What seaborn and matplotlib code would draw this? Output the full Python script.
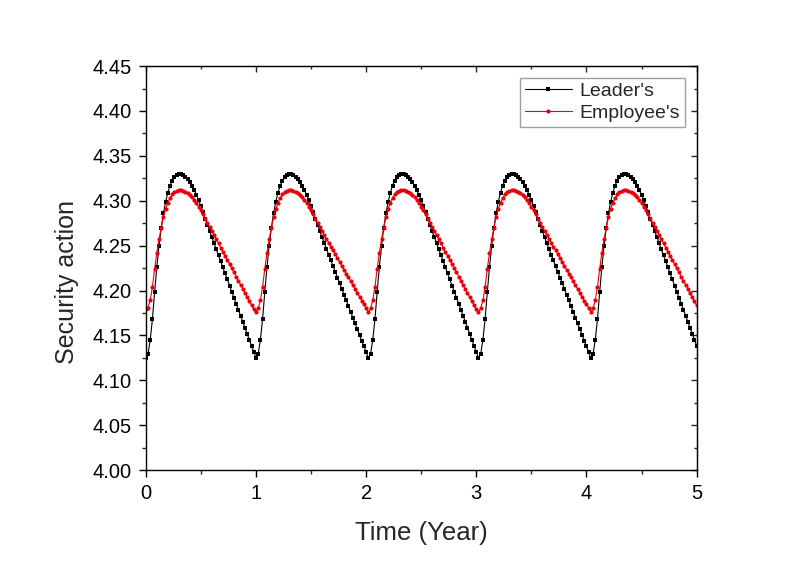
import numpy as np
import pandas as pd
import matplotlib
matplotlib.use("Agg")
import matplotlib.pyplot as plt
from matplotlib.ticker import MultipleLocator, FormatStrFormatter
import seaborn as sns

# ---- data (time step 0.02 year) ----
leader_period_a = [4.125, 4.129, 4.145, 4.168, 4.198, 4.226, 4.250, 4.270, 4.286, 4.299,
                   4.309, 4.317, 4.3225, 4.3265, 4.329, 4.330, 4.3298, 4.3287, 4.3268, 4.3242,
                   4.3208, 4.3167, 4.3120, 4.3066, 4.3006, 4.2940, 4.2870, 4.2798, 4.2728, 4.2660,
                   4.2592, 4.2525, 4.2458, 4.2391, 4.2324, 4.2257, 4.2190, 4.2123, 4.2056, 4.1989,
                   4.1922, 4.1855, 4.1788, 4.1721, 4.1654, 4.1587, 4.1520, 4.1453, 4.1386, 4.1319]
leader_period_b = [4.125, 4.129, 4.145, 4.168, 4.198, 4.226, 4.250, 4.270, 4.286, 4.299,
                   4.309, 4.317, 4.3225, 4.3265, 4.329, 4.330, 4.3298, 4.3287, 4.3268, 4.3242,
                   4.3208, 4.3167, 4.3120, 4.3066, 4.3006, 4.2940, 4.2870, 4.2798, 4.2728, 4.2660,
                   4.2592, 4.2528, 4.2464, 4.2400, 4.2337, 4.2273, 4.2209, 4.2145, 4.2081, 4.2017,
                   4.1953, 4.1890, 4.1826, 4.1762, 4.1698, 4.1634, 4.1570, 4.1506, 4.1442, 4.1378,
                   4.1314]
leader_last = [4.125, 4.129, 4.145, 4.168, 4.198, 4.226, 4.250, 4.270, 4.286, 4.299,
               4.309, 4.317, 4.3225, 4.3265, 4.329, 4.330, 4.3298, 4.3287, 4.3268, 4.3242,
               4.3208, 4.3167, 4.3120, 4.3066, 4.3006, 4.2940, 4.2870, 4.2798, 4.2728, 4.2660,
               4.2592, 4.2525, 4.2458, 4.2391, 4.2324, 4.2257, 4.2190, 4.2123, 4.2056, 4.1989,
               4.1922, 4.1855, 4.1788, 4.1721, 4.1654, 4.1587, 4.1520, 4.1453, 4.1386]

employee_first = [4.179, 4.181, 4.189, 4.204, 4.224, 4.242, 4.257, 4.270, 4.282, 4.291,
                  4.298, 4.303, 4.307, 4.3095, 4.311, 4.3115, 4.3115, 4.3110, 4.3100, 4.3085,
                  4.3065, 4.3040, 4.3010, 4.2975, 4.2935, 4.2892, 4.2847, 4.2800, 4.2754, 4.2708,
                  4.2662, 4.2616, 4.2570, 4.2524, 4.2478, 4.2432, 4.2386, 4.2340, 4.2294, 4.2248,
                  4.2202, 4.2156, 4.2110, 4.2064, 4.2018, 4.1972, 4.1926, 4.1880, 4.1834, 4.1790]
employee_period_a = [4.176, 4.180, 4.189, 4.204, 4.224, 4.242, 4.257, 4.270, 4.282, 4.291,
                     4.298, 4.303, 4.307, 4.3095, 4.311, 4.3115, 4.3115, 4.3110, 4.3100, 4.3085,
                     4.3065, 4.3040, 4.3010, 4.2975, 4.2935, 4.2892, 4.2847, 4.2800, 4.2754, 4.2708,
                     4.2662, 4.2616, 4.2570, 4.2524, 4.2478, 4.2432, 4.2386, 4.2340, 4.2294, 4.2248,
                     4.2202, 4.2156, 4.2110, 4.2064, 4.2018, 4.1972, 4.1926, 4.1880, 4.1834, 4.1790]
employee_period_b = [4.176, 4.180, 4.189, 4.204, 4.224, 4.242, 4.257, 4.270, 4.282, 4.291,
                     4.298, 4.303, 4.307, 4.3095, 4.311, 4.3115, 4.3115, 4.3110, 4.3100, 4.3085,
                     4.3065, 4.3040, 4.3010, 4.2975, 4.2935, 4.2892, 4.2847, 4.2800, 4.2754, 4.2708,
                     4.2662, 4.2619, 4.2576, 4.2533, 4.2490, 4.2447, 4.2404, 4.2361, 4.2318, 4.2275,
                     4.2232, 4.2189, 4.2146, 4.2103, 4.2060, 4.2017, 4.1974, 4.1931, 4.1888, 4.1845,
                     4.1802]
employee_last = [4.176, 4.180, 4.189, 4.204, 4.224, 4.242, 4.257, 4.270, 4.282, 4.291,
                 4.298, 4.303, 4.307, 4.3095, 4.311, 4.3115, 4.3115, 4.3110, 4.3100, 4.3085,
                 4.3065, 4.3040, 4.3010, 4.2975, 4.2935, 4.2892, 4.2847, 4.2800, 4.2754, 4.2708,
                 4.2662, 4.2616, 4.2570, 4.2524, 4.2478, 4.2432, 4.2386, 4.2340, 4.2294, 4.2248,
                 4.2202, 4.2156, 4.2110, 4.2064, 4.2018, 4.1972, 4.1926, 4.1880, 4.1834]

leader = (leader_period_a + leader_period_b + leader_period_a + leader_period_b + leader_last)
employee = (employee_first + employee_period_b + employee_period_a + employee_period_b + employee_last)

time_step = 0.02
time = [round(k * time_step, 2) for k in range(len(leader))]

series_names = ["Leader's", "Employee's"]
x_ticks = [0, 1, 2, 3, 4, 5]

# ---- plot ----
sns.set_style("ticks")
plt.rcParams["font.family"] = ["Liberation Sans", "DejaVu Sans"]

fig = plt.figure(figsize=(8.10, 5.65), dpi=100)
ax = fig.add_axes([0.180, 0.168, 0.680, 0.715])

df = pd.DataFrame({"time": time + time,
                   "value": leader + employee,
                   "series": [series_names[0]] * len(leader) + [series_names[1]] * len(employee)})

sns.lineplot(data=df[df.series == series_names[0]], x="time", y="value", ax=ax,
             color="black", linewidth=0.8, marker="s", markersize=2.4,
             markeredgewidth=0, label=series_names[0])
sns.lineplot(data=df[df.series == series_names[1]], x="time", y="value", ax=ax,
             color="#e8000b", linewidth=0.8, marker="o", markersize=3.0,
             markeredgewidth=0, label=series_names[1])

ax.set_xlim(0, 5)
ax.set_ylim(4.00, 4.45)
ax.set_xticks(x_ticks)
ax.xaxis.set_minor_locator(MultipleLocator(0.5))
ax.yaxis.set_major_locator(MultipleLocator(0.05))
ax.yaxis.set_minor_locator(MultipleLocator(0.025))
ax.yaxis.set_major_formatter(FormatStrFormatter("%.2f"))

for s in ax.spines.values():
    s.set_visible(True)
    s.set_linewidth(1.0)
    s.set_color("black")

ax.tick_params(axis="both", which="major", direction="out", length=5, width=1.0,
               labelsize=14.5, colors="black", pad=5)
ax.tick_params(axis="both", which="minor", direction="out", length=3, width=1.0)

# inward ticks on top and right (secondary axes)
sec_x = ax.secondary_xaxis("top")
sec_x.set_xticks(x_ticks)
sec_x.xaxis.set_minor_locator(MultipleLocator(0.5))
sec_x.tick_params(which="major", direction="in", length=4, width=1.0, labeltop=False)
sec_x.tick_params(which="minor", direction="in", length=2.5, width=1.0)
sec_y = ax.secondary_yaxis("right")
sec_y.yaxis.set_major_locator(MultipleLocator(0.05))
sec_y.yaxis.set_minor_locator(MultipleLocator(0.025))
sec_y.tick_params(which="major", direction="in", length=4, width=1.0, labelright=False)
sec_y.tick_params(which="minor", direction="in", length=2.5, width=1.0)

ax.set_xlabel("Time (Year)", fontsize=18.5, labelpad=13)
ax.set_ylabel("Security action", fontsize=18)
ax.yaxis.set_label_coords(-0.122, 0.465)

leg = ax.legend(loc="upper right", fontsize=14, frameon=True, fancybox=False,
                edgecolor="#888888", handlelength=2.4, handletextpad=0.4,
                borderpad=0.25, labelspacing=0.2, borderaxespad=0.6)
leg.get_frame().set_linewidth(1.0)

fig.savefig("out.png", dpi=100)
